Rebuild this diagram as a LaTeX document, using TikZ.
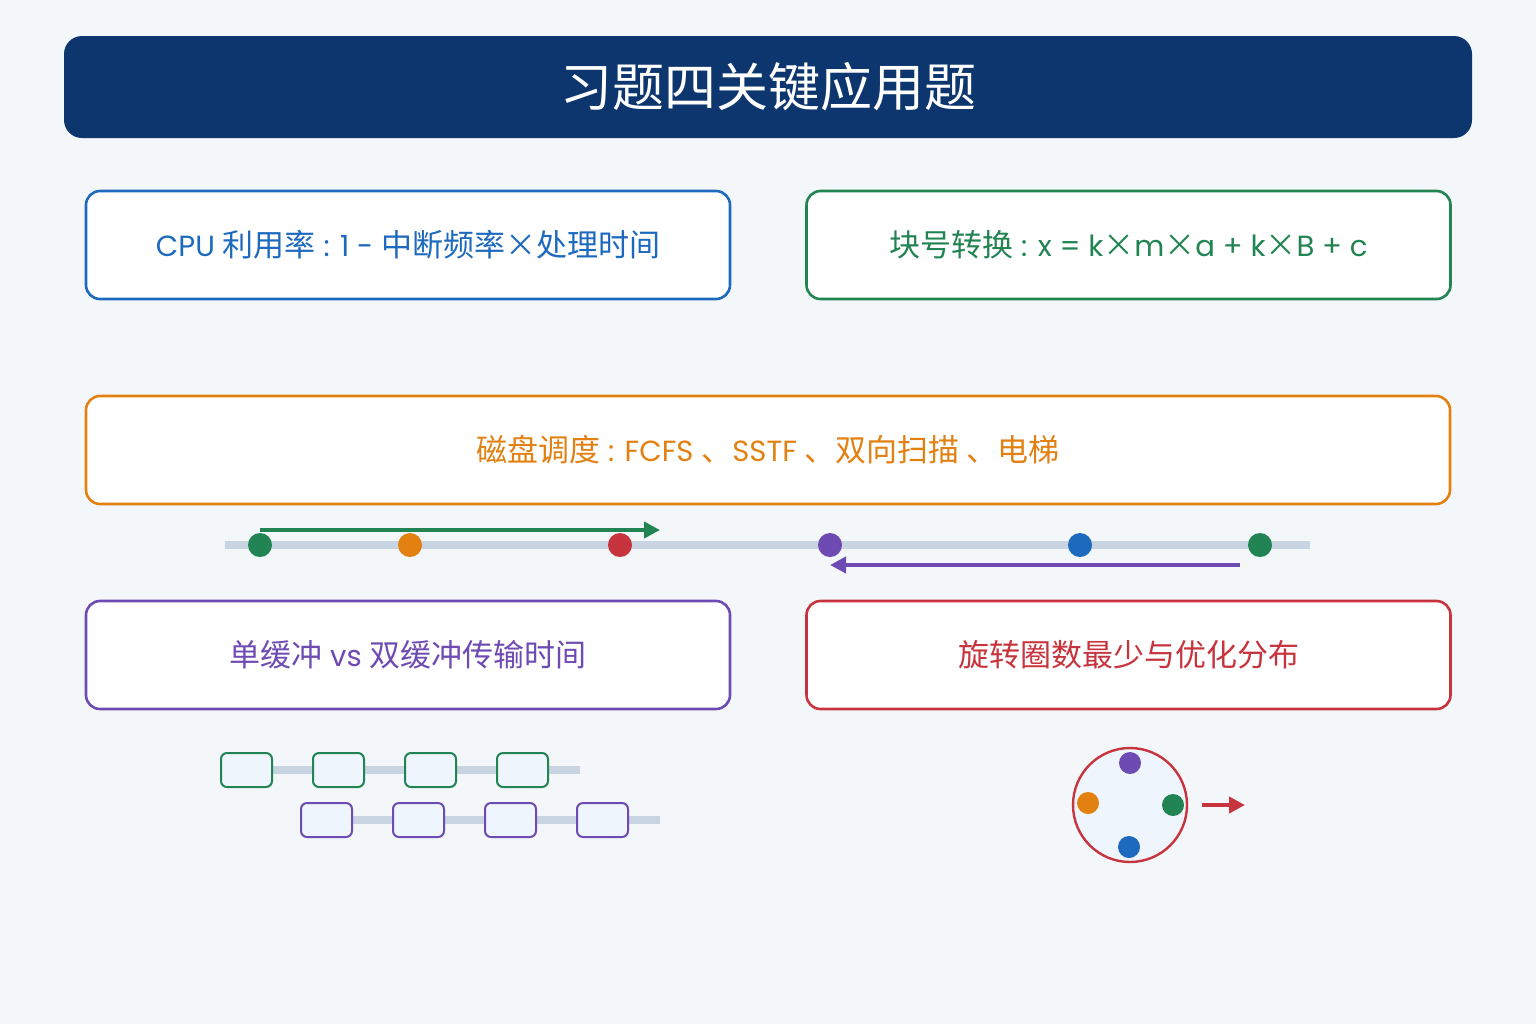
\documentclass[tikz,border=0pt]{standalone}
\usepackage{fontspec}
\setmainfont{Poppins}[Scale=0.94]
\newfontfamily\cjk{Noto Sans CJK SC}
\usetikzlibrary{arrows.meta, positioning}
\definecolor{pagebg}{RGB}{243,247,250}
\definecolor{navy}{RGB}{14,54,110}
\definecolor{cblue}{RGB}{28,105,190}
\definecolor{cgreen}{RGB}{34,132,82}
\definecolor{corange}{RGB}{226,128,18}
\definecolor{cpurple}{RGB}{110,75,178}
\definecolor{cred}{RGB}{200,52,62}
\definecolor{trackgray}{RGB}{200,212,226}
\definecolor{bufbg}{RGB}{238,245,253}

\begin{document}
\begin{tikzpicture}[
  x=0.5pt, y=-0.5pt,
  card/.style={draw, rounded corners=7pt, line width=1.3pt, fill=white,
               minimum width=322pt, minimum height=54pt,
               font=\fontsize{15.5}{18}\selectfont},
  dot/.style={circle, inner sep=0pt, minimum size=12pt},
  sdot/.style={circle, inner sep=0pt, minimum size=11pt},
  buf/.style={draw, rounded corners=3pt, line width=1pt, fill=bufbg,
              minimum width=25.5pt, minimum height=17pt, inner sep=0pt},
  track/.style={draw=trackgray, line width=4pt},
  a/.style={-{Triangle[length=8pt,width=8pt]}, line width=2pt}
]
% ---- page ----
\fill[pagebg] (0,0) rectangle (1536,1024);
\useasboundingbox (0,0) rectangle (1536,1024);

% ---- title ----
\node[fill=navy, rounded corners=9pt, minimum width=704pt, minimum height=51pt,
      text=white, font=\cjk\fontsize{26}{29}\selectfont] (title) at (768,87)
  {习题四关键应用题};

% ---- cards ----
\node[card, draw=cblue, text=cblue] (cpu) at (408,245)
  {CPU {\cjk 利用率} : 1 - {\cjk 中断频率×处理时间}};
\node[card, draw=cgreen, text=cgreen] (blk) at (1128.5,245)
  {{\cjk 块号转换} : x = k{\cjk ×}m{\cjk ×}a + k{\cjk ×}B + c};
\node[card, draw=corange, text=corange, minimum width=682pt] (disk) at (768,450)
  {{\cjk 磁盘调度} : FCFS {\cjk 、}SSTF {\cjk 、双向扫描 、电梯}};
\node[card, draw=cpurple, text=cpurple] (buffer) at (408,655)
  {{\cjk 单缓冲} vs {\cjk 双缓冲传输时间}};
\node[card, draw=cred, text=cred, font=\cjk\fontsize{15.5}{18}\selectfont] (rot) at (1128.5,655)
  {旋转圈数最少与优化分布};

% ---- disk track ----
\coordinate (tl) at (225,545);
\coordinate (tr) at (1310,545);
\draw[track] (tl) -- (tr);
\node[dot, fill=cgreen]  (d1) at (260,545) {};
\node[dot, fill=corange] (d2) at (410,545) {};
\node[dot, fill=cred]    (d3) at (620,545) {};
\node[dot, fill=cpurple] (d4) at (830,545) {};
\node[dot, fill=cblue]   (d5) at (1080,545) {};
\node[dot, fill=cgreen]  (d6) at (1260,545) {};

\coordinate (up0) at (260,530);
\coordinate (up1) at (660,530);
\draw[a, cgreen] (up0) -- (up1);
\coordinate (dn0) at (1240,565);
\coordinate (dn1) at (830,565);
\draw[a, cpurple] (dn0) -- (dn1);

% ---- buffers ----
\coordinate (gend) at (580,770);
\coordinate (pend) at (660,820);
\draw[track] (246.5,770) coordinate (gstart) -- (gend);
\draw[track] (326.5,820) coordinate (pstart) -- (pend);
\foreach \i in {1,...,4} {
  \node[buf, draw=cgreen]  (g\i) at ({154.5+92*\i},770) {};
  \node[buf, draw=cpurple] (p\i) at ({234.5+92*\i},820) {};
}

% ---- rotation ----
\node[circle, draw=cred, line width=1.2pt, fill=bufbg, minimum size=57pt,
      inner sep=0pt] (plate) at (1130,805) {};
\node[sdot, fill=cpurple] (r1) at (1130,763) {};
\node[sdot, fill=corange] (r2) at (1088,803) {};
\node[sdot, fill=cgreen]  (r3) at (1173,805) {};
\node[sdot, fill=cblue]   (r4) at (1129,847) {};
\coordinate (rs) at (1202,805);
\coordinate (re) at (1245,805);
\draw[a, cred] (rs) -- (re);

\end{tikzpicture}
\end{document}
